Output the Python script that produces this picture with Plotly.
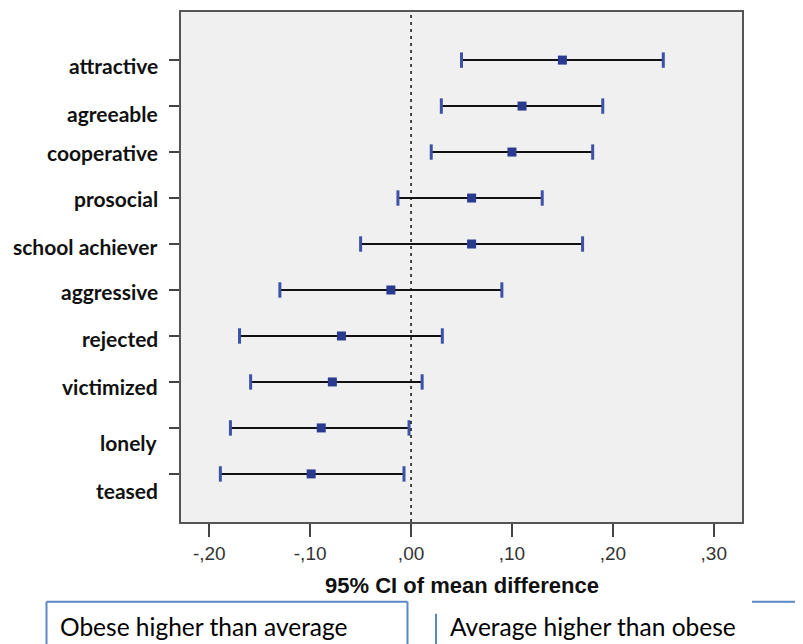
import plotly.graph_objects as go

categories = ["attractive", "agreeable", "cooperative", "prosocial", "school achiever",
              "aggressive", "rejected", "victimized", "lonely", "teased"]
mean_diff = [0.150, 0.110, 0.100, 0.060, 0.060, -0.020, -0.069, -0.078, -0.089, -0.099]
ci_lower = [0.050, 0.030, 0.020, -0.013, -0.050, -0.130, -0.170, -0.159, -0.179, -0.189]
ci_upper = [0.250, 0.190, 0.180, 0.130, 0.170, 0.090, 0.031, 0.011, -0.002, -0.007]
tick_vals = [-0.2, -0.1, 0.0, 0.1, 0.2, 0.3]
tick_text = ["-,20", "-,10", ",00", ",10", ",20", ",30"]
x_title = "95% CI of mean difference"
left_box_text = "Obese higher than average"
right_box_text = "Average higher than obese"

# label vertical offsets (px, downward) as in the reference
label_shift = [5, 7, 0, 0, 2, 2, 3, 5, 15, 17]

# page has an 8px body margin; lay out in page pixels
OFF = 8
PAGE_W, PAGE_H = 803, 644
W, H = PAGE_W - OFF, PAGE_H - OFF
PL, PR, PT, PB = 181, 742, 10, 522  # plot box in page pixels
ML, MT = PL - OFF, PT - OFF
MR, MB = PAGE_W - PR, PAGE_H - PB
PW, PH = PR - PL, PB - PT


def px(x):
    return (x - PL) / PW


def py(y):
    return (PB - y) / PH


ypos = list(range(len(categories)))

fig = go.Figure()

# CI lines
lx, ly = [], []
for i, (lo, hi) in enumerate(zip(ci_lower, ci_upper)):
    lx += [lo, hi, None]
    ly += [i, i, None]
fig.add_trace(go.Scatter(x=lx, y=ly, mode="lines",
                         line=dict(color="#111111", width=2), hoverinfo="skip",
                         showlegend=False))
# caps
fig.add_trace(go.Scatter(x=ci_lower + ci_upper, y=ypos + ypos, mode="markers",
                         marker=dict(symbol="line-ns", size=11,
                                     line=dict(color="#3d52a6", width=3)),
                         showlegend=False))
# means
fig.add_trace(go.Scatter(x=mean_diff, y=ypos, mode="markers",
                         marker=dict(symbol="square", size=9, color="#2a3b8f"),
                         showlegend=False))

fig.add_shape(type="line", x0=0, x1=0, xref="x", y0=0, y1=1, yref="paper",
              line=dict(color="#111111", width=1.5, dash="3px,4px"))

annotations = []
for i, (c, s) in enumerate(zip(categories, label_shift)):
    annotations.append(dict(x=0, xref="paper", y=i, yref="y", text="<b>%s</b>" % c,
                            showarrow=False, xanchor="right", yanchor="middle",
                            xshift=-21, yshift=-s,
                            font=dict(family="Lato", size=21, color="#111111")))
annotations.append(dict(x=0.5, xref="paper", y=py(586), yref="paper",
                        text="<b>%s</b>" % x_title, showarrow=False,
                        xanchor="center", yanchor="middle",
                        font=dict(family="Liberation Sans, Arial", size=22, color="#111111")))
annotations.append(dict(x=px(58), xref="paper", y=py(627), yref="paper",
                        text=left_box_text, showarrow=False, xanchor="left", yanchor="middle",
                        font=dict(family="Lato", size=24.5, color="#000000")))
annotations.append(dict(x=px(448), xref="paper", y=py(627), yref="paper",
                        text=right_box_text, showarrow=False, xanchor="left", yanchor="middle",
                        font=dict(family="Lato", size=24.5, color="#000000")))

blue = "#5b87c5"
shapes_extra = [
    dict(x0=px(46.5), x1=px(46.5), y0=py(602), y1=py(650)),
    dict(x0=px(46.5), x1=px(407.5), y0=py(602), y1=py(602)),
    dict(x0=px(407.5), x1=px(407.5), y0=py(602), y1=py(650)),
    dict(x0=px(436), x1=px(436), y0=py(614), y1=py(650)),
    dict(x0=px(752), x1=px(810), y0=py(602), y1=py(602)),
]
for s in shapes_extra:
    fig.add_shape(type="line", xref="paper", yref="paper",
                  line=dict(color=blue, width=2), **s)

fig.update_layout(
    width=W, height=H,
    margin=dict(l=ML, r=MR, t=MT, b=MB),
    paper_bgcolor="white", plot_bgcolor="#f0f0f0",
    showlegend=False,
    annotations=annotations,
    xaxis=dict(range=[-0.228, 0.328], tickvals=tick_vals, ticktext=tick_text,
               ticks="outside", ticklen=13, tickwidth=1.5, tickcolor="#444444",
               showline=True, mirror=True, linecolor="#555555", linewidth=2,
               showgrid=False, zeroline=False,
               tickfont=dict(family="Liberation Sans, Arial", size=19, color="#333333")),
    yaxis=dict(range=[len(categories) - 1 + 1.046, -1.046], tickvals=ypos,
               showticklabels=False, ticks="outside", ticklen=10, tickwidth=1.5,
               tickcolor="#444444",
               showline=True, mirror=True, linecolor="#555555", linewidth=2,
               showgrid=False, zeroline=False),
)

fig.write_html("out.html")
